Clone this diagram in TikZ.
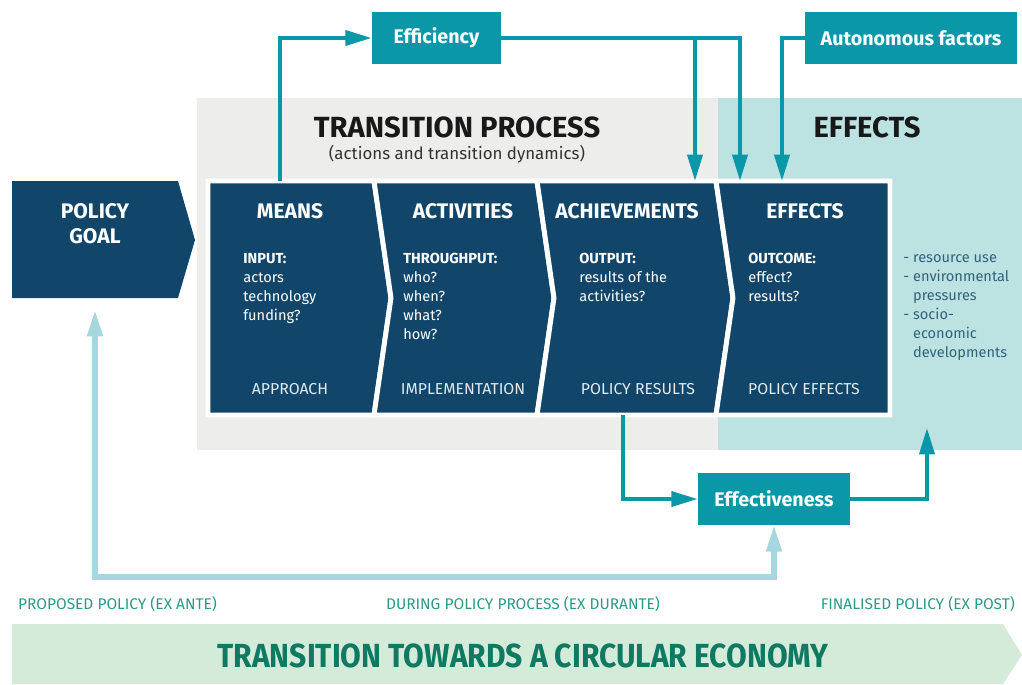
\documentclass[tikz,border=0pt]{standalone}
\usepackage{fontspec}
\setmainfont{Fira Sans}
\newfontfamily\narrowfont[FakeStretch=0.9]{Fira Sans}
\usetikzlibrary{arrows.meta,positioning}
\definecolor{navy}{HTML}{11466A}
\definecolor{petrol}{HTML}{0A98A8}
\definecolor{lightpetrol}{HTML}{A6D7DF}
\definecolor{panelgrey}{HTML}{EDEDEC}
\definecolor{panelteal}{HTML}{BCE2E1}
\definecolor{bannergreen}{HTML}{D4EBDA}
\definecolor{bannertext}{HTML}{0E7A62}
\definecolor{labelgreen}{HTML}{2B9A86}
\definecolor{listblue}{HTML}{33627F}
\tikzset{
block/.style = {fill=navy, draw=white, line width=2.8pt},
head/.style = {text=white, font=\bfseries\fontsize{12}{14.2}\selectfont, align=center},
sub/.style = {text=white, anchor=north west, inner sep=0pt, align=left, font=\fontsize{8.3}{10.8}\selectfont},
foot/.style = {text=white!88!navy, font=\fontsize{9}{10}\selectfont},
tag/.style = {fill=petrol, text=white, font=\bfseries\fontsize{11.2}{13}\selectfont, minimum height=1.04cm},
title/.style = {text=black!90, font=\bfseries\fontsize{16.6}{18}\selectfont},
stage/.style = {text=labelgreen, font=\fontsize{8.8}{10}\selectfont},
conn/.style = {petrol, line width=2.3pt},
lconn/.style = {lightpetrol, line width=3pt}
}
\begin{document}
\begin{tikzpicture}[x=0.02cm, y=-0.02cm, >={Triangle[length=15pt,width=8.5pt]}]
  \useasboundingbox (0,0) rectangle (1022,684);

  % panels behind the chain
  \fill [panelgrey] (197,98) rectangle (718,450);
  \fill [panelteal] (718,98) rectangle (1022,450);
  \node [title] (process) at (457,127) {TRANSITION PROCESS};
  \node [font=\fontsize{9.6}{11}\selectfont, text=black!80] (dynamics) at (457,154) {(actions and transition dynamics)};
  \node [title] (effectstitle) at (867,127) {EFFECTS};

  % chevrons
  \fill [navy] (12,181) -- (178,181) -- (195,240) -- (178,298) -- (12,298) -- cycle;
  \path [block] (208,181) -- (374,181) -- (391,298) -- (374,415) -- (208,415) -- cycle;
  \path [block] (374,181) -- (537,181) -- (554,298) -- (537,415) -- (374,415) -- (391,298) -- cycle;
  \path [block] (537,181) -- (716,181) -- (733,298) -- (716,415) -- (537,415) -- (554,298) -- cycle;
  \path [block] (716,181) -- (890,181) -- (890,415) -- (716,415) -- (733,298) -- cycle;

  \node [head] (goal) at (95,224) {POLICY\\GOAL};
  \node [head] (means) at (290,211) {MEANS};
  \node [head] (activities) at (463,211) {ACTIVITIES};
  \node [head] (achievements) at (627,211) {ACHIEVEMENTS};
  \node [head] (effects) at (805,211) {EFFECTS};

  \node [sub] (input) at (243,253) {\textbf{INPUT:}\\actors\\technology\\funding?};
  \node [sub] (throughput) at (403,253) {\textbf{THROUGHPUT:}\\who?\\when?\\what?\\how?};
  \node [sub] (output) at (579,253) {\textbf{OUTPUT:}\\results of the\\activities?};
  \node [sub] (outcome) at (748,253) {\textbf{OUTCOME:}\\effect?\\results?};

  \node [foot] (approach) at (290,389) {APPROACH};
  \node [foot] (implementation) at (463,389) {IMPLEMENTATION};
  \node [foot] (results) at (638,389) {POLICY RESULTS};
  \node [foot] (policyeffects) at (804,389) {POLICY EFFECTS};

  \node [sub, text=listblue] (impacts) at (903,254) {- resource use\\- environmental\\\hphantom{- }pressures\\- socio-\\\hphantom{- }economic\\\hphantom{- }developments};

  % evaluation boxes
  \node [tag, minimum width=2.58cm] (efficiency) at (436.5,38) {Efficiency};
  \node [tag, minimum width=4.24cm] (autonomous) at (911,38) {Autonomous factors};
  \node [tag, minimum width=3.04cm] (effectiveness) at (774,499) {Effectiveness};

  \coordinate (meanstop) at (280,181);
  \coordinate (achtop) at (695,181);
  \coordinate (efftop) at (740,181);
  \coordinate (autotop) at (782,181);
  \coordinate (achbottom) at (623,415);
  \coordinate (panelbottom) at (927,428);
  \coordinate (goalbottom) at (95,310);
  \coordinate (loopend) at (774,577);

  \draw [conn,->] (meanstop) |- (efficiency.west);
  \draw [conn,->] (efficiency.east) -| (achtop);
  \draw [conn,->] (efficiency.east) -| (efftop);
  \draw [conn,->] (autonomous.west) -| (autotop);
  \draw [conn,->] (achbottom) |- (effectiveness.west);
  \draw [conn,->] (effectiveness.east) -| (panelbottom);
  \draw [lconn,<->] (goalbottom) |- (loopend) -- (effectiveness.south);

  % time line
  \node [stage, anchor=west] (exante) at (12,604) {PROPOSED POLICY (EX ANTE)};
  \node [stage] (exdurante) at (523,604) {DURING POLICY PROCESS (EX DURANTE)};
  \node [stage, anchor=east] (expost) at (1021,604) {FINALISED POLICY (EX POST)};

  \fill [bannergreen] (12,624) -- (1003,624) -- (1022,655) -- (1003,684) -- (12,684) -- cycle;
  \node [text=bannertext, font=\narrowfont\bfseries\fontsize{19}{22}\selectfont] (economy) at (523,656) {TRANSITION TOWARDS A CIRCULAR ECONOMY};
\end{tikzpicture}
\end{document}
